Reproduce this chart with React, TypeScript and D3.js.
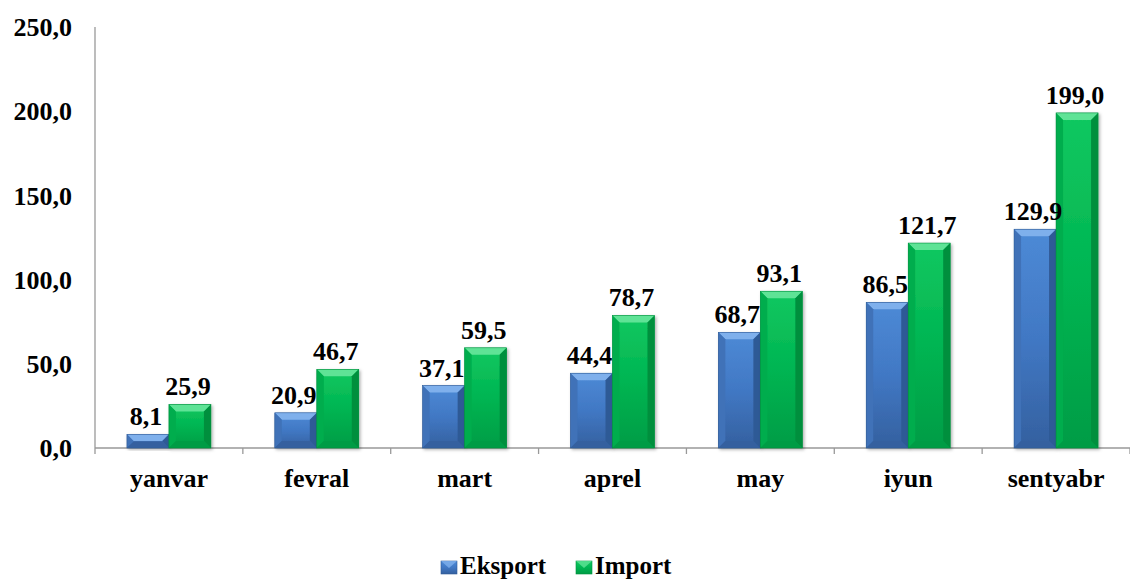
import React from "react";
import * as d3 from "d3";

const categories = ["yanvar", "fevral", "mart", "aprel", "may", "iyun", "sentyabr"];
const seriesNames = ["Eksport", "Import"];
const eksport = [8.1, 20.9, 37.1, 44.4, 68.7, 86.5, 129.9];
const importVals = [25.9, 46.7, 59.5, 78.7, 93.1, 121.7, 199.0];
const yTicks = [0, 50, 100, 150, 200, 250];

const W = 1130;
const H = 581;
const margin = { top: 27, right: 0, bottom: 133, left: 95 };
const FONT = "Liberation Serif, DejaVu Serif, serif";

const palette: Record<string, { top: string; mid: string; bot: string; light: string; side: string; dark: string }> = {
  Eksport: { top: "#4d8ad6", mid: "#4178c4", bot: "#34609f", light: "#7fb0ec", side: "#3f72b8", dark: "#2f5a96" },
  Import: { top: "#12c860", mid: "#00b552", bot: "#009c45", light: "#5fe396", side: "#00ad4d", dark: "#008f3e" },
};

const fmt = (v: number) => d3.format(".1f")(v).replace(".", ",");

function Bar({ x, y, w, h, name }: { x: number; y: number; w: number; h: number; name: string }) {
  const c = palette[name];
  const b = Math.min(7, h / 2, w / 4);
  const id = name === "Eksport" ? "gE" : "gI";
  return (
    <g filter="url(#shadow)">
      <rect x={x} y={y} width={w} height={h} fill={`url(#${id})`} />
      <polygon points={`${x},${y} ${x + w},${y} ${x + w - b},${y + b} ${x + b},${y + b}`} fill={c.light} />
      <polygon points={`${x},${y} ${x + b},${y + b} ${x + b},${y + h - b} ${x},${y + h}`} fill={c.side} />
      <polygon points={`${x + w},${y} ${x + w - b},${y + b} ${x + w - b},${y + h - b} ${x + w},${y + h}`} fill={c.dark} />
      <polygon points={`${x},${y + h} ${x + b},${y + h - b} ${x + w - b},${y + h - b} ${x + w},${y + h}`} fill={c.bot} />
      <rect x={x} y={y} width={w} height={h} fill="none" stroke={c.dark} strokeWidth={0.6} />
    </g>
  );
}

export default function App() {
  const innerW = W - margin.left - margin.right;
  const y0 = H - margin.bottom;

  const x = d3.scaleBand<string>()
    .domain(categories)
    .range([margin.left, margin.left + innerW])
    .paddingInner(0.432)
    .paddingOuter(0.216);

  const xs = d3.scaleBand<string>()
    .domain(seriesNames)
    .range([0, x.bandwidth()]);

  const y = d3.scaleLinear()
    .domain([0, 250])
    .range([y0, margin.top]);

  const data = seriesNames.map((name, si) => ({
    name,
    values: si === 0 ? eksport : importVals,
  }));

  const step = x.step();
  const txt = { fontFamily: FONT, fontWeight: 700 as const };

  return (
    <svg width={W} height={H} style={{ position: "absolute", left: 0, top: 0, background: "#fff" }}>
      <defs>
        {seriesNames.map((n) => (
          <linearGradient key={n} id={n === "Eksport" ? "gE" : "gI"} x1="0" y1="0" x2="0" y2="1">
            <stop offset="0%" stopColor={palette[n].top} />
            <stop offset="50%" stopColor={palette[n].mid} />
            <stop offset="100%" stopColor={palette[n].bot} />
          </linearGradient>
        ))}
        <filter id="shadow" x="-20%" y="-20%" width="140%" height="140%">
          <feDropShadow dx="1.5" dy="1.5" stdDeviation="1.5" floodColor="#000" floodOpacity="0.3" />
        </filter>
      </defs>

      {/* y axis */}
      <line x1={margin.left} x2={margin.left} y1={margin.top} y2={y0} stroke="#999" strokeWidth={1.3} />
      {yTicks.map((t) => (
        <text key={t} x={72} y={y(t)} dy="0.35em" textAnchor="end" fontSize={26} style={txt} fill="#000">
          {fmt(t)}
        </text>
      ))}

      {/* x axis */}
      <line x1={margin.left} x2={W} y1={y0} y2={y0} stroke="#999" strokeWidth={1.3} />
      {d3.range(categories.length + 1).map((i) => {
        const tx = margin.left + i * step;
        return <line key={i} x1={tx} x2={tx} y1={y0} y2={y0 + 6} stroke="#999" strokeWidth={1.3} />;
      })}
      {categories.map((c) => (
        <text key={c} x={(x(c) ?? 0) + x.bandwidth() / 2} y={487} textAnchor="middle" fontSize={26} style={txt} fill="#000">
          {c}
        </text>
      ))}

      {/* bars */}
      {data.map((s) =>
        s.values.map((v, i) => {
          const bx = (x(categories[i]) ?? 0) + (xs(s.name) ?? 0);
          const by = y(v);
          return <Bar key={s.name + i} x={bx} y={by} w={xs.bandwidth()} h={y0 - by} name={s.name} />;
        })
      )}

      {/* value labels */}
      {data.map((s) =>
        s.values.map((v, i) => {
          const bx = (x(categories[i]) ?? 0) + (xs(s.name) ?? 0) + xs.bandwidth() / 2;
          return (
            <text key={"l" + s.name + i} x={bx - 2} y={y(v) - 9} textAnchor="middle" fontSize={26} style={txt} fill="#000">
              {fmt(v)}
            </text>
          );
        })
      )}

      {/* legend */}
      {seriesNames.map((n, i) => {
        const lx = i === 0 ? 441 : 576;
        return (
          <g key={n}>
            <rect x={lx} y={561} width={16} height={13} fill={`url(#${n === "Eksport" ? "gE" : "gI"})`} stroke={palette[n].dark} strokeWidth={0.6} />
            <polygon points={`${lx},561 ${lx + 16},561 ${lx + 8},568`} fill={palette[n].light} opacity={0.8} />
            <text x={lx + 19} y={574} fontSize={25} style={txt} fill="#000">{n}</text>
          </g>
        );
      })}
    </svg>
  );
}
